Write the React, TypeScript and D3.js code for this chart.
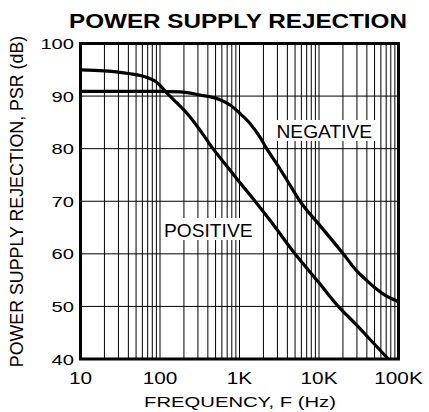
import React from "react";
import * as d3 from "d3";

const posFreq = [10, 20, 40, 70, 90, 105, 120, 140, 168, 225, 330, 464, 700, 957, 1570, 2500, 4990, 10000, 17500, 30000, 50000, 74500];
const posDb = [95.0, 94.8, 94.3, 93.5, 92.7, 91.7, 90.7, 89.7, 88.5, 86.5, 83.2, 80, 76.6, 74.0, 70, 66.1, 60, 54.5, 50, 46.4, 42.8, 40];

const negFreq = [10, 100, 178, 318, 569, 760, 1014, 1355, 1810, 2200, 3000, 4000, 5770, 10000, 20200, 30000, 40000, 50000, 70000, 100000];
const negDb = [90.9, 90.9, 90.8, 90.2, 89.3, 88.3, 86.7, 84.8, 82.2, 80.0, 76.9, 73.9, 70, 65.6, 60, 56.7, 54.9, 53.6, 52.0, 50.9];

const xTickValues = [10, 100, 1000, 10000, 100000];
const xTickLabels = ["10", "100", "1K", "10K", "100K"];
const yTickValues = [40, 50, 60, 70, 80, 90, 100];

const W = 429;
const H = 412;
const FONT = "'Liberation Sans', Arial, Helvetica, sans-serif";

function T({ x, y, size, sx = 1, anchor = "start", weight = "normal", rotate = 0, children }: any) {
  return (
    <text
      transform={`translate(${x},${y}) rotate(${rotate}) scale(${sx},1)`}
      fontSize={size}
      fontFamily={FONT}
      fontWeight={weight}
      textAnchor={anchor}
      fill="#000"
    >
      {children}
    </text>
  );
}

export default function App() {
  const x = d3.scaleLog().domain([10, 100000]).range([80.5, 398.5]);
  const y = d3.scaleLinear().domain([40, 100]).range([359, 43.5]);

  const minor: number[] = [];
  for (let k = 1; k <= 4; k++) {
    for (let m = 1; m <= 9; m++) {
      const v = m * Math.pow(10, k);
      if (v > 10 && v < 100000) minor.push(v);
    }
  }

  const line = d3
    .line<[number, number]>()
    .x((d) => x(d[0]))
    .y((d) => y(d[1]))
    .curve(d3.curveMonotoneX);

  const posPath = line(posFreq.map((f, i) => [f, posDb[i]] as [number, number])) || "";
  const negPath = line(negFreq.map((f, i) => [f, negDb[i]] as [number, number])) || "";

  const [x0, x1] = x.range();
  const [yb, yt] = y.range();

  return (
    <svg width={W} height={H} style={{ position: "absolute", left: 0, top: 0, background: "#fff" }}>
      <rect x={0} y={0} width={W} height={H} fill="#fff" />
      <defs>
        <clipPath id="plotclip">
          <rect x={x0} y={yt} width={x1 - x0} height={yb - yt} />
        </clipPath>
      </defs>
      {minor.map((v) => (
        <line key={"v" + v} x1={x(v)} x2={x(v)} y1={yt} y2={yb} stroke="#000" strokeWidth={1} />
      ))}
      {yTickValues
        .filter((v) => v > 40 && v < 100)
        .map((v) => (
          <line key={"h" + v} x1={x0} x2={x1} y1={y(v)} y2={y(v)} stroke="#000" strokeWidth={1} />
        ))}
      <rect x={273} y={120} width={105} height={21} fill="#fff" />
      <rect x={161} y={218} width={97} height={22} fill="#fff" />
      <g clipPath="url(#plotclip)">
        <path d={posPath} fill="none" stroke="#000" strokeWidth={3.2} strokeLinejoin="round" />
        <path d={negPath} fill="none" stroke="#000" strokeWidth={3.2} strokeLinejoin="round" />
      </g>
      <rect x={x0} y={yt} width={x1 - x0} height={yb - yt} fill="none" stroke="#000" strokeWidth={3} />
      <T x={276.5} y={137.5} size={19.2}>NEGATIVE</T>
      <T x={164} y={237} size={19.2}>POSITIVE</T>
      <T x={238} y={27.5} size={20.2} sx={1.2} anchor="middle" weight="bold">POWER SUPPLY REJECTION</T>
      {yTickValues.map((v) => (
        <T key={"yt" + v} x={74} y={y(v) + 5.5} size={15.5} sx={1.3} anchor="end">{String(v)}</T>
      ))}
      {xTickValues.map((v, i) => (
        <T key={"xt" + v} x={x(v)} y={383.5} size={16} sx={1.3} anchor="middle">{xTickLabels[i]}</T>
      ))}
      <T x={240} y={407} size={15} sx={1.35} anchor="middle">FREQUENCY, F (Hz)</T>
      <T x={22.5} y={201.5} size={17.8} anchor="middle" rotate={-90}>POWER SUPPLY REJECTION, PSR (dB)</T>
    </svg>
  );
}
